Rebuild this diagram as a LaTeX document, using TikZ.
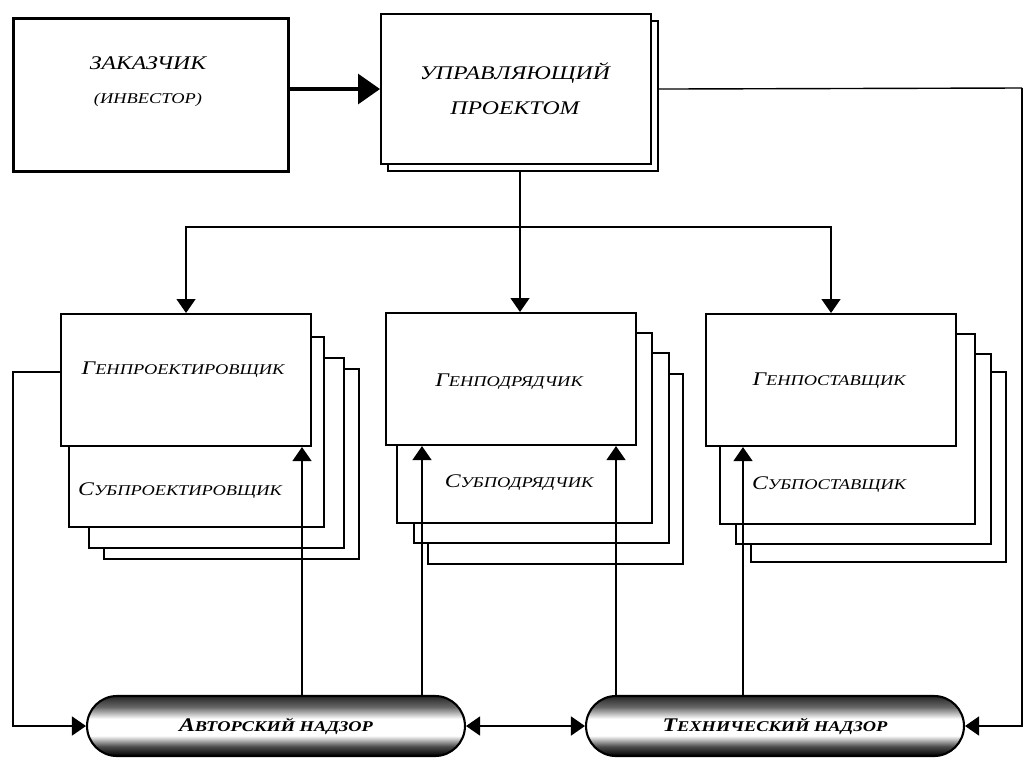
\documentclass[tikz,border=0pt]{standalone}
\usepackage{fontspec}
\setmainfont{Liberation Serif}[FakeStretch=1.23]
\usetikzlibrary{arrows.meta,shapes.misc,positioning}
\pgfdeclareverticalshading{pillshade}{100bp}{color(0bp)=(black); color(25bp)=(black); color(33bp)=(black!70); color(42bp)=(white); color(56bp)=(white); color(66bp)=(black!60); color(75bp)=(black!85); color(100bp)=(black!85)}
\tikzstyle{main box}=[draw, fill=white, line width=1.2pt, minimum width=5cm, minimum height=2.64cm, inner sep=0pt, anchor=north west]
\tikzstyle{back box}=[draw, fill=white, line width=1pt, minimum width=5.1cm, minimum height=3.8cm, inner sep=0pt, anchor=north west]
\tikzstyle{pill}=[rounded rectangle, draw, line width=1.2pt, shading=pillshade, minimum width=7.56cm, minimum height=1.2cm, inner sep=0pt]
\tikzstyle{box text}=[font=\itshape, inner sep=0pt]
\newcommand{\capsc}[2]{{\fontsize{11}{13}\selectfont #1}{\fontsize{8.5}{10}\selectfont #2}}

\begin{document}
\begin{tikzpicture}[x=0.02cm, y=-0.02cm, line width=0.8pt, >={Triangle[length=0.28cm,width=0.38cm]}]
  \useasboundingbox (0,0) rectangle (1026,760);

  % top row
  \node[main box, minimum width=5.5cm, minimum height=3.06cm, line width=1.8pt] (client) at (12,17) {};
  \node[box text] (client1) at (148,63) {\fontsize{11}{13}\selectfont ЗАКАЗЧИК};
  \node[box text] (client2) at (148,100) {\fontsize{8.5}{10}\selectfont (ИНВЕСТОР)};

  \node[main box, minimum width=5.4cm, minimum height=3cm] (mgrb) at (387,20) {};
  \node[main box, minimum width=5.4cm, minimum height=3cm] (mgr) at (380,13) {};
  \node[box text] (mgr1) at (515,73) {\fontsize{11}{13}\selectfont УПРАВЛЯЮЩИЙ};
  \node[box text] (mgr2) at (515,108) {\fontsize{11}{13}\selectfont ПРОЕКТОМ};

  % designer stack
  \node[back box] (gpr3) at (103,368) {};
  \node[back box] (gpr2) at (88,357) {};
  \node[back box] (gpr1) at (68,336) {};
  \node[main box] (gpr) at (60,313) {};
  \node[box text] (gprt) at (183,370) {\capsc{Г}{ЕНПРОЕКТИРОВЩИК}};
  \node[box text] (sprt) at (180,491) {\capsc{С}{УБПРОЕКТИРОВЩИК}};

  % contractor stack
  \node[back box] (gpd3) at (427,373) {};
  \node[back box] (gpd2) at (413,352) {};
  \node[back box] (gpd1) at (396,332) {};
  \node[main box] (gpd) at (385,312) {};
  \node[box text] (gpdt) at (509,382) {\capsc{Г}{ЕНПОДРЯДЧИК}};
  \node[box text] (spdt) at (519,483) {\capsc{С}{УБПОДРЯДЧИК}};

  % supplier stack
  \node[back box] (gps3) at (750,371) {};
  \node[back box] (gps2) at (735,353) {};
  \node[back box] (gps1) at (719,333) {};
  \node[main box] (gps) at (705,313) {};
  \node[box text] (gpst) at (829,381) {\capsc{Г}{ЕНПОСТАВЩИК}};
  \node[box text] (spst) at (829,485) {\capsc{С}{УБПОСТАВЩИК}};

  % supervision
  \node[pill] (avt) at (276,726) {\bfseries\itshape\capsc{А}{ВТОРСКИЙ НАДЗОР}};
  \node[pill] (tech) at (775,726) {\bfseries\itshape\capsc{Т}{ЕХНИЧЕСКИЙ НАДЗОР}};

  \coordinate (hub) at (520,227);
  \coordinate (rc) at (1022,88);
  \coordinate (lc) at (13,372);
  \coordinate (ua) at (302,0);
  \coordinate (ub) at (422,0);
  \coordinate (uc) at (616,0);
  \coordinate (ud) at (743,0);

  \draw[-{Triangle[length=0.44cm,width=0.6cm]}, line width=1.8pt] (client.east |- mgr.west) -- (mgr.west);
  \draw (mgrb.south -| hub) -- (hub);
  \draw[->] (hub) -- (hub |- gpd.north);
  \draw[->] (hub) -| (gpr.north);
  \draw[->] (hub) -| (gps.north);
  \draw (mgrb.east |- mgr.east) -- (rc);
  \draw[->] (rc) |- (tech.east);
  \draw[->] (gpr.west |- lc) -- (lc) |- (avt.west);
  \draw[<->] (avt.east) -- (tech.west);
  \draw[->] (avt.north -| ua) -- (ua |- gpr.south);
  \draw[->] (avt.north -| ub) -- (ub |- gpd.south);
  \draw[->] (tech.north -| uc) -- (uc |- gpd.south);
  \draw[->] (tech.north -| ud) -- (ud |- gps.south);
\end{tikzpicture}
\end{document}
